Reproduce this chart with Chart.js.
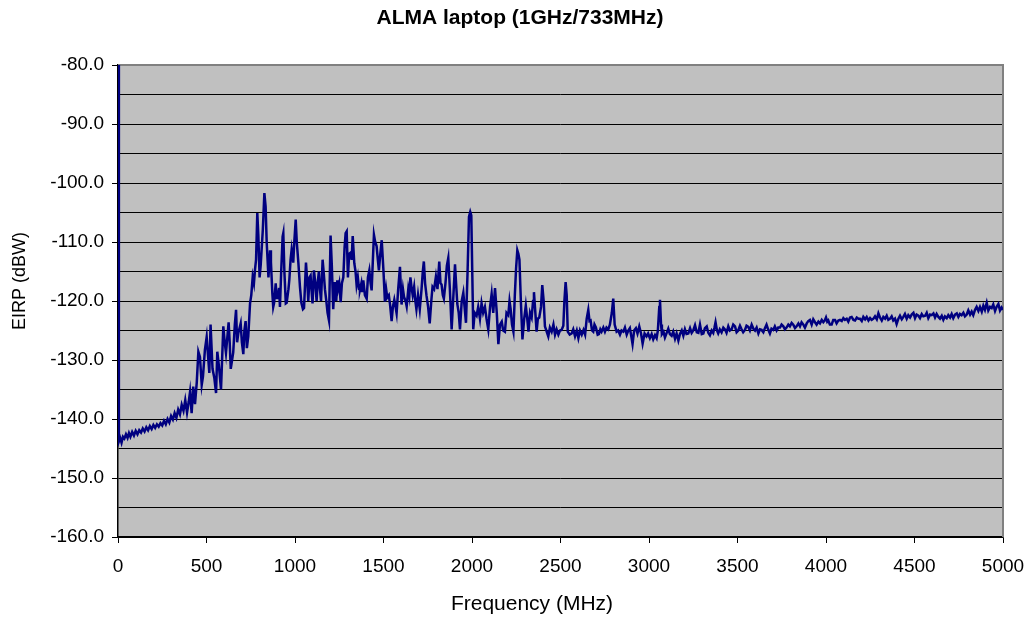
<!DOCTYPE html>
<html>
<head>
<meta charset="utf-8">
<title>ALMA laptop (1GHz/733MHz)</title>
<script src="https://cdn.jsdelivr.net/npm/chart.js@4.4.1/dist/chart.umd.min.js"></script>
<style>
  html, body { margin: 0; padding: 0; background: #fff; }
  #wrap { width: 1031px; height: 621px; position: relative; }
</style>
</head>
<body>
<div id="wrap"><canvas id="spectrumChart"></canvas></div>
<script>
// ---------- DATA ----------
const chartTitle = 'ALMA laptop (1GHz/733MHz)';
const xAxisTitle = 'Frequency (MHz)';
const yAxisTitle = 'EIRP (dBW)';

const xTickValues = [0, 500, 1000, 1500, 2000, 2500, 3000, 3500, 4000, 4500, 5000];
const yLabelValues = [-80, -90, -100, -110, -120, -130, -140, -150, -160];
const yGridValues = [-80, -85, -90, -95, -100, -105, -110, -115, -120, -125, -130, -135, -140, -145, -150, -155, -160];

const freqMHz = [
  0, 5, 12, 20, 28, 36, 45, 54, 62, 70, 80, 90, 100, 110, 120, 130, 140, 150, 160, 170,
  180, 190, 200, 210, 220, 230, 240, 250, 260, 270, 280, 290, 300, 310, 320, 330, 340, 350, 360, 370,
  380, 390, 400, 407, 416, 425, 435, 445, 454, 463, 473, 480, 491, 501, 508, 516, 523, 534, 544, 554,
  561, 570, 582, 595, 603, 610, 625, 631, 637, 651, 660, 667, 673, 680, 693, 700, 708, 714, 721, 728,
  736, 746, 753, 761, 768, 774, 780, 787, 793, 800, 806, 812, 818, 827, 834, 840, 850, 859, 864, 872,
  877, 882, 891, 896, 902, 910, 915, 922, 930, 934, 940, 948, 953, 963, 968, 975, 981, 990, 996, 1004,
  1010, 1019, 1028, 1036, 1045, 1051, 1062, 1070, 1075, 1082, 1088, 1093, 1099, 1107, 1115, 1122, 1128, 1135, 1141, 1147,
  1156, 1163, 1169, 1177, 1184, 1192, 1201, 1208, 1216, 1224, 1233, 1239, 1243, 1250, 1258, 1265, 1273, 1280, 1286, 1292,
  1299, 1306, 1314, 1320, 1326, 1335, 1342, 1348, 1355, 1362, 1367, 1375, 1380, 1386, 1395, 1405, 1412, 1420, 1427, 1433,
  1440, 1446, 1453, 1461, 1468, 1474, 1482, 1490, 1500, 1508, 1515, 1521, 1530, 1537, 1546, 1553, 1561, 1568, 1574, 1583,
  1593, 1602, 1610, 1616, 1625, 1631, 1640, 1646, 1652, 1658, 1665, 1673, 1680, 1686, 1695, 1705, 1715, 1722, 1728, 1735,
  1743, 1752, 1761, 1770, 1777, 1786, 1796, 1805, 1815, 1822, 1828, 1835, 1841, 1850, 1858, 1866, 1875, 1885, 1895, 1904,
  1910, 1917, 1925, 1932, 1942, 1951, 1958, 1966, 1975, 1983, 1990, 1996, 2002, 2007, 2015, 2026, 2035, 2045, 2054, 2063,
  2073, 2082, 2092, 2102, 2111, 2120, 2130, 2140, 2149, 2158, 2168, 2176, 2186, 2195, 2205, 2212, 2218, 2226, 2234, 2242,
  2249, 2256, 2262, 2268, 2276, 2285, 2295, 2304, 2312, 2319, 2328, 2337, 2345, 2350, 2358, 2365, 2372, 2380, 2390, 2397,
  2405, 2412, 2420, 2431, 2440, 2450, 2460, 2469, 2478, 2488, 2497, 2506, 2516, 2522, 2529, 2535, 2541, 2552, 2563, 2572,
  2582, 2592, 2601, 2610, 2620, 2630, 2639, 2648, 2657, 2664, 2670, 2678, 2685, 2692, 2700, 2710, 2717, 2725, 2732, 2742,
  2751, 2760, 2770, 2779, 2790, 2798, 2806, 2817, 2826, 2836, 2845, 2855, 2864, 2874, 2883, 2892, 2900, 2907, 2916, 2926,
  2935, 2945, 2955, 2964, 2975, 2986, 2995, 3005, 3015, 3024, 3034, 3043, 3050, 3058, 3062, 3068, 3073, 3082, 3090, 3100,
  3109, 3118, 3128, 3137, 3147, 3156, 3166, 3175, 3185, 3194, 3203, 3212, 3222, 3232, 3241, 3250, 3260, 3270, 3279, 3288,
  3298, 3307, 3316, 3326, 3335, 3344, 3354, 3363, 3370, 3376, 3384, 3391, 3400, 3410, 3420, 3429, 3438, 3448, 3457, 3467,
  3476, 3486, 3495, 3504, 3514, 3523, 3532, 3542, 3551, 3561, 3570, 3580, 3590, 3599, 3608, 3618, 3627, 3636, 3646, 3655,
  3664, 3673, 3683, 3692, 3702, 3711, 3721, 3730, 3740, 3749, 3759, 3768, 3777, 3787, 3796, 3806, 3815, 3825, 3834, 3844,
  3853, 3862, 3872, 3881, 3891, 3900, 3909, 3919, 3928, 3938, 3947, 3957, 3966, 3976, 3985, 3993, 4000, 4007, 4013, 4022,
  4032, 4041, 4051, 4060, 4070, 4079, 4089, 4098, 4107, 4117, 4126, 4136, 4145, 4155, 4164, 4174, 4183, 4192, 4202, 4211,
  4221, 4230, 4240, 4249, 4258, 4268, 4277, 4287, 4296, 4305, 4315, 4324, 4334, 4343, 4352, 4362, 4371, 4380, 4390, 4399,
  4409, 4418, 4428, 4437, 4446, 4456, 4465, 4475, 4484, 4494, 4503, 4512, 4522, 4531, 4541, 4550, 4560, 4569, 4578, 4588,
  4597, 4607, 4616, 4625, 4635, 4644, 4654, 4663, 4672, 4682, 4691, 4701, 4710, 4719, 4729, 4739, 4748, 4757, 4766, 4776,
  4785, 4795, 4804, 4814, 4823, 4832, 4842, 4851, 4861, 4870, 4880, 4889, 4898, 4908, 4917, 4927, 4936, 4945, 4955, 4964,
  4974, 4983, 4992, 5000
];

const eirpDbw = [
  -80, -143.8, -143.2, -144.0, -143.0, -143.3, -142.6, -143.2, -142.4, -143.0, -142.2, -142.8, -142.0, -142.6, -141.9, -142.3, -141.6, -142.1, -141.4, -141.9,
  -141.2, -141.7, -141.0, -141.5, -140.9, -141.3, -140.7, -141.1, -140.3, -140.9, -140.0, -140.6, -139.5, -140.1, -139.0, -139.8, -138.4, -139.2, -137.6, -138.6,
  -136.8, -138.9, -137.0, -135.4, -139.0, -134.5, -137.5, -133.8, -128.6, -129.5, -134.2, -132.8, -128.3, -126.1, -129.0, -132.2, -124.0, -131.5, -133.0, -135.6,
  -128.6, -131.0, -135.0, -124.3, -127.0, -128.8, -123.6, -127.0, -131.5, -128.7, -124.0, -121.5, -127.0, -125.4, -123.8, -127.0, -129.0, -125.0, -123.4, -128.0,
  -126.0, -120.4, -119.0, -115.9, -117.0, -114.7, -113.0, -105.1, -109.0, -116.0, -114.0, -111.0, -108.0, -101.7, -104.0, -110.0, -116.0, -111.4, -113.4, -118.7,
  -121.0, -120.3, -117.0, -119.5, -119.5, -117.8, -121.0, -115.0, -109.1, -108.5, -115.0, -120.4, -120.3, -118.0, -116.4, -113.0, -111.3, -113.5, -110.0, -106.2,
  -110.0, -113.5, -117.6, -120.3, -121.4, -121.2, -113.5, -117.0, -120.0, -116.0, -115.7, -118.0, -120.4, -114.8, -117.0, -120.0, -117.0, -115.0, -118.0, -120.0,
  -113.0, -115.5, -118.0, -120.0, -122.0, -123.3, -108.9, -114.0, -121.4, -116.8, -120.0, -116.5, -118.0, -117.0, -120.2, -117.0, -116.0, -111.0, -108.5, -108.2,
  -116.0, -112.0, -111.8, -113.0, -109.0, -113.6, -115.0, -117.3, -116.0, -118.0, -118.1, -117.0, -118.5, -116.5, -119.0, -119.6, -116.0, -114.8, -117.0, -118.2,
  -113.0, -108.8, -110.0, -110.7, -113.0, -114.8, -112.0, -109.7, -115.0, -120.1, -118.0, -119.4, -119.0, -120.6, -123.4, -121.0, -119.8, -121.0, -122.1, -118.0,
  -114.2, -120.6, -118.0, -119.3, -120.0, -120.9, -118.0, -119.1, -116.0, -117.6, -119.0, -117.6, -120.0, -121.4, -119.0, -121.4, -118.0, -115.0, -113.3, -117.0,
  -119.1, -121.0, -123.8, -120.0, -117.6, -118.0, -115.9, -118.0, -113.3, -117.0, -117.2, -119.0, -119.6, -117.0, -114.0, -112.7, -118.0, -124.8, -119.0, -113.8,
  -117.0, -120.5, -122.0, -124.8, -120.0, -118.6, -121.0, -123.7, -115.0, -105.7, -104.9, -105.5, -116.0, -124.8, -122.0, -122.5, -121.0, -123.0, -120.4, -122.0,
  -121.0, -123.0, -124.8, -121.0, -118.8, -122.0, -117.8, -122.0, -127.3, -124.0, -123.5, -125.0, -125.2, -122.0, -122.4, -120.0, -121.3, -124.0, -125.2, -119.0,
  -114.5, -111.4, -112.0, -113.0, -120.0, -126.5, -123.0, -120.8, -123.0, -125.2, -122.0, -122.8, -120.0, -118.5, -122.0, -125.2, -123.0, -122.8, -121.0, -117.3,
  -120.0, -124.3, -125.0, -126.0, -124.5, -125.2, -124.0, -125.7, -124.8, -125.7, -125.0, -124.9, -124.2, -120.0, -116.8, -119.0, -125.2, -125.7, -125.5, -124.8,
  -126.0, -125.0, -126.3, -125.0, -125.7, -124.9, -125.7, -123.0, -121.5, -123.4, -123.3, -125.0, -125.2, -124.0, -124.5, -125.7, -125.6, -124.8, -125.2, -124.5,
  -125.2, -124.5, -124.8, -124.0, -122.0, -119.6, -124.0, -125.2, -125.0, -125.7, -125.0, -125.2, -124.5, -125.7, -125.0, -124.6, -126.0, -127.3, -125.0, -124.6,
  -125.5, -124.3, -125.5, -127.2, -125.5, -126.0, -125.5, -126.3, -125.6, -126.5, -125.8, -126.3, -125.0, -121.0, -119.8, -124.0, -125.6, -125.2, -126.2, -125.4,
  -124.7, -125.6, -125.9, -125.2, -126.4, -125.5, -126.7, -125.6, -125.0, -125.9, -124.8, -125.6, -125.5, -124.6, -125.4, -125.0, -124.1, -125.3, -125.4, -124.0,
  -125.6, -125.5, -124.6, -124.3, -125.4, -125.8, -125.0, -125.4, -124.5, -123.6, -125.0, -125.5, -124.8, -125.3, -124.5, -124.8, -125.4, -124.3, -125.0, -124.8,
  -124.0, -124.3, -125.3, -125.0, -124.2, -124.8, -125.3, -124.9, -124.2, -124.4, -125.0, -124.0, -124.7, -125.0, -124.5, -125.5, -124.8, -124.9, -125.3, -124.6,
  -124.0, -124.8, -125.5, -124.7, -124.9, -124.3, -125.0, -124.5, -124.5, -124.0, -124.3, -124.8, -124.5, -124.0, -124.3, -123.7, -124.0, -124.6, -124.3, -123.8,
  -124.3, -123.6, -124.0, -124.5, -123.8, -123.4, -123.2, -124.0, -123.1, -123.6, -124.0, -123.5, -123.8, -123.2, -123.6, -123.3, -122.8, -123.5, -123.3, -124.0,
  -124.0, -123.2, -123.2, -123.8, -123.3, -123.2, -123.4, -122.9, -123.2, -123.0, -123.5, -122.8, -122.7, -123.2, -123.3, -122.8, -123.0, -123.0, -123.4, -122.7,
  -123.1, -122.7, -123.3, -122.9, -123.2, -123.0, -122.6, -123.1, -122.1, -122.8, -123.3, -122.7, -123.0, -122.5, -123.2, -123.0, -122.6, -123.3, -123.0, -123.9,
  -123.0, -122.5, -123.1, -122.7, -122.2, -123.0, -122.4, -122.8, -122.3, -122.0, -122.9, -122.3, -122.5, -122.9, -122.2, -122.6, -122.5, -122.0, -122.9, -122.3,
  -122.4, -122.1, -122.8, -122.2, -122.7, -123.0, -122.5, -123.2, -122.6, -122.9, -122.4, -122.8, -122.2, -122.9, -122.3, -122.1, -122.7, -122.2, -122.4, -122.0,
  -122.6, -122.3, -121.6, -122.3, -121.8, -122.4, -121.5, -121.0, -121.7, -121.0, -121.8, -120.8, -121.5, -120.3, -121.6, -121.0, -121.2, -120.6, -121.7, -121.0,
  -120.5, -121.6, -121.1, -121.5
];

// ---------- PLOT AREA STYLE ----------
const plotBackground = {
    id: 'plotBackground',
    beforeDraw(chart) {
        const {ctx, chartArea} = chart;
        ctx.save();
        ctx.fillStyle = '#c0c0c0';
        ctx.fillRect(chartArea.left, chartArea.top, chartArea.right - chartArea.left, chartArea.bottom - chartArea.top);
        ctx.restore();
    },
    beforeDatasetsDraw(chart) {
        // gray frame on the top and right of the plot area
        const {ctx, chartArea} = chart;
        ctx.save();
        ctx.strokeStyle = '#808080';
        ctx.lineWidth = 2;
        ctx.beginPath();
        ctx.moveTo(chartArea.left, chartArea.top);
        ctx.lineTo(chartArea.right, chartArea.top);
        ctx.lineTo(chartArea.right, chartArea.bottom);
        ctx.stroke();
        ctx.restore();
    }
};

// titles sit a little off-centre in the original, so draw them by hand
const chartTexts = {
    id: 'chartTexts',
    afterDraw(chart) {
        const {ctx} = chart;
        ctx.save();
        ctx.fillStyle = '#000';
        ctx.textAlign = 'center';
        ctx.textBaseline = 'middle';
        ctx.font = 'bold 21px Arial, "Liberation Sans", sans-serif';
        ctx.fillText(chartTitle, 520, 18);
        ctx.font = '21px Arial, "Liberation Sans", sans-serif';
        ctx.fillText(xAxisTitle, 532, 604);
        ctx.font = '18px Arial, "Liberation Sans", sans-serif';
        ctx.translate(20, 281);
        ctx.rotate(-Math.PI / 2);
        ctx.fillText(yAxisTitle, 0, 0);
        ctx.restore();
    }
};

// ---------- CHART ----------
const ctx = document.getElementById('spectrumChart').getContext('2d');
const points = freqMHz.map((f, i) => ({x: f, y: eirpDbw[i]}));

new Chart(ctx, {
    type: 'line',
    data: {
        datasets: [{
            label: 'EIRP',
            data: points,
            borderColor: '#000080',
            borderWidth: 2.5,
            pointRadius: 0,
            tension: 0,
            fill: false
        }]
    },
    options: {
        responsive: true,
        maintainAspectRatio: false,
        animation: false,
        layout: { padding: { left: 0, right: 28, top: 65, bottom: 0 } },
        plugins: {
            legend: { display: false },
            tooltip: { enabled: false },
            title: { display: false }
        },
        scales: {
            x: {
                type: 'linear',
                min: 0,
                max: 5000,
                afterBuildTicks: (scale) => { scale.ticks = xTickValues.map(v => ({value: v})); },
                afterFit: (scale) => {
                    scale.height = 84;
                    scale.paddingRight = 0;
                },
                ticks: {
                    color: '#000',
                    font: { family: 'Arial, "Liberation Sans", sans-serif', size: 19 },
                    padding: 12,
                    maxRotation: 0,
                    callback: (v) => String(v)
                },
                grid: { display: true, drawOnChartArea: false, color: '#000', tickLength: 6, tickColor: '#000' },
                border: { display: true, color: '#000', width: 1.5 }
            },
            y: {
                type: 'linear',
                min: -160,
                max: -80,
                afterBuildTicks: (scale) => { scale.ticks = yGridValues.map(v => ({value: v})); },
                afterFit: (scale) => {
                    scale.width = 118;
                    scale.paddingTop = 0;
                },
                ticks: {
                    color: '#000',
                    font: { family: 'Arial, "Liberation Sans", sans-serif', size: 19 },
                    padding: 8,
                    autoSkip: false,
                    callback: (v) => yLabelValues.includes(v) ? v.toFixed(1) : ''
                },
                grid: {
                    color: (c) => c.tick && c.tick.value === -80 ? '#808080' : '#000',
                    lineWidth: 1,
                    tickLength: 6,
                    tickColor: (c) => c.tick && yLabelValues.includes(c.tick.value) ? '#000' : 'rgba(0,0,0,0)'
                },
                border: { display: true, color: '#000', width: 1.5 }
            }
        }
    },
    plugins: [plotBackground, chartTexts]
});
</script>
</body>
</html>
